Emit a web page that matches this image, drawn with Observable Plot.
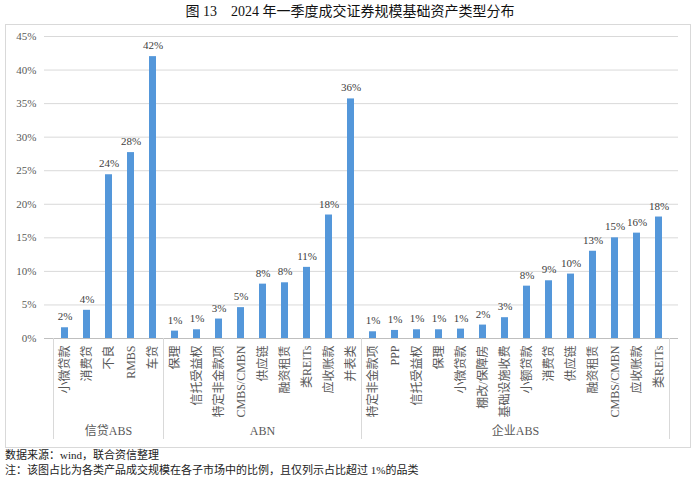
<!DOCTYPE html>
<html>
<head>
<meta charset="utf-8">
<script src="https://cdn.jsdelivr.net/npm/d3@7"></script>
<script src="https://cdn.jsdelivr.net/npm/@observablehq/plot@0.6"></script>
<style>
  html, body { margin: 0; padding: 0; background: #fff; }
  body { width: 700px; height: 477px; overflow: hidden; font-family: "Liberation Serif", "Noto Sans CJK SC", serif; }
  #title { height: 24px; line-height: 24px; text-align: center; font-size: 14px; color: #111; }
  #box { margin-left: 5px; width: 684px; height: 422px; border: 1px solid #d9d9d9; }
  #notes { padding-left: 5px; font-size: 11px; line-height: 15px; color: #222; }
</style>
</head>
<body>
<div id="title">图 13　2024 年一季度成交证券规模基础资产类型分布</div>
<div id="box"></div>
<div id="notes">
  <div>数据来源：wind，联合资信整理</div>
  <div>注：该图占比为各类产品成交规模在各子市场中的比例，且仅列示占比超过 1%的品类</div>
</div>
<script>
const groups = ["信贷ABS", "ABN", "企业ABS"];

const creditCats = ["小微贷款", "消费贷", "不良", "RMBS", "车贷"];
const creditVals = [1.6, 4.2, 24.4, 27.7, 42.0];

const abnCats = ["保理", "信托受益权", "特定非金款项", "CMBS/CMBN", "供应链", "融资租赁", "类REITs", "应收账款", "并表类"];
const abnVals = [1.1, 1.3, 2.9, 4.6, 8.1, 8.3, 10.6, 18.4, 35.7];

const corpCats = ["特定非金款项", "PPP", "信托受益权", "保理", "小微贷款", "棚改/保障房", "基础设施收费", "小额贷款", "消费贷", "供应链", "融资租赁", "CMBS/CMBN", "应收账款", "类REITs"];
const corpVals = [1.0, 1.2, 1.3, 1.3, 1.4, 2.0, 3.1, 7.8, 8.6, 9.6, 13.0, 15.0, 15.7, 18.1];

const yTicks = [0, 5, 10, 15, 20, 25, 30, 35, 40, 45];

const catLists = [creditCats, abnCats, corpCats];
const valLists = [creditVals, abnVals, corpVals];
const data = [];
groups.forEach((g, gi) => {
  catLists[gi].forEach((c, i) => data.push({group: g, cat: c, key: g + "|" + c, value: valLists[gi][i]}));
});
const domain = data.map(d => d.key);

const FONT = '"Liberation Serif", "Noto Sans CJK SC", serif';

function groupLayer(index, scales, values, dims) {
  const x = scales.x;
  const g = d3.create("svg:g");
  const y0 = dims.height - dims.marginBottom;
  const bw = x.bandwidth();
  const gap = (x.step() - bw) / 2;
  const edges = [];
  groups.forEach((gr, gi) => {
    const keys = domain.filter(k => k.startsWith(gr + "|"));
    const a = x(keys[0]) - gap;
    const b = x(keys[keys.length - 1]) + bw + gap;
    if (gi === 0) edges.push(a);
    edges.push(b);
    g.append("text")
      .attr("x", (a + b) / 2)
      .attr("y", y0 + 93)
      .attr("text-anchor", "middle")
      .attr("dominant-baseline", "central")
      .attr("font-size", 12)
      .attr("font-family", FONT)
      .attr("fill", "#595959")
      .text(gr);
  });
  edges.forEach(e => {
    g.append("line")
      .attr("x1", e).attr("x2", e)
      .attr("y1", y0).attr("y2", y0 + 101)
      .attr("stroke", "#d9d9d9");
  });
  return g.node();
}

const chart = Plot.plot({
  width: 684,
  height: 422,
  marginLeft: 38,
  marginRight: 12,
  marginTop: 11,
  marginBottom: 109,
  style: {fontFamily: FONT, background: "#fff"},
  x: {domain, paddingInner: 0.69, paddingOuter: 0.345, align: 0.5},
  y: {domain: [0, 45]},
  marks: [
    Plot.gridY(yTicks, {stroke: "#d9d9d9", strokeOpacity: 1}),
    Plot.axisY({ticks: yTicks, tickFormat: d => d + "%", tickSize: 0, tickPadding: 8, fontSize: 11, fill: "#595959", label: null}),
    Plot.axisX({tickRotate: -90, tickSize: 0, tickPadding: 7, tickFormat: k => k.split("|")[1], fontSize: 12, fill: "#595959", label: null}),
    Plot.barY(data, {x: "key", y: "value", fill: "#5497da"}),
    Plot.ruleY([0], {stroke: "#bfbfbf"}),
    Plot.text(data, {x: "key", y: "value", text: d => Math.round(d.value) + "%", dy: -11, fontSize: 11, fill: "#404040"}),
    groupLayer
  ]
});
document.getElementById("box").appendChild(chart);
</script>
</body>
</html>
